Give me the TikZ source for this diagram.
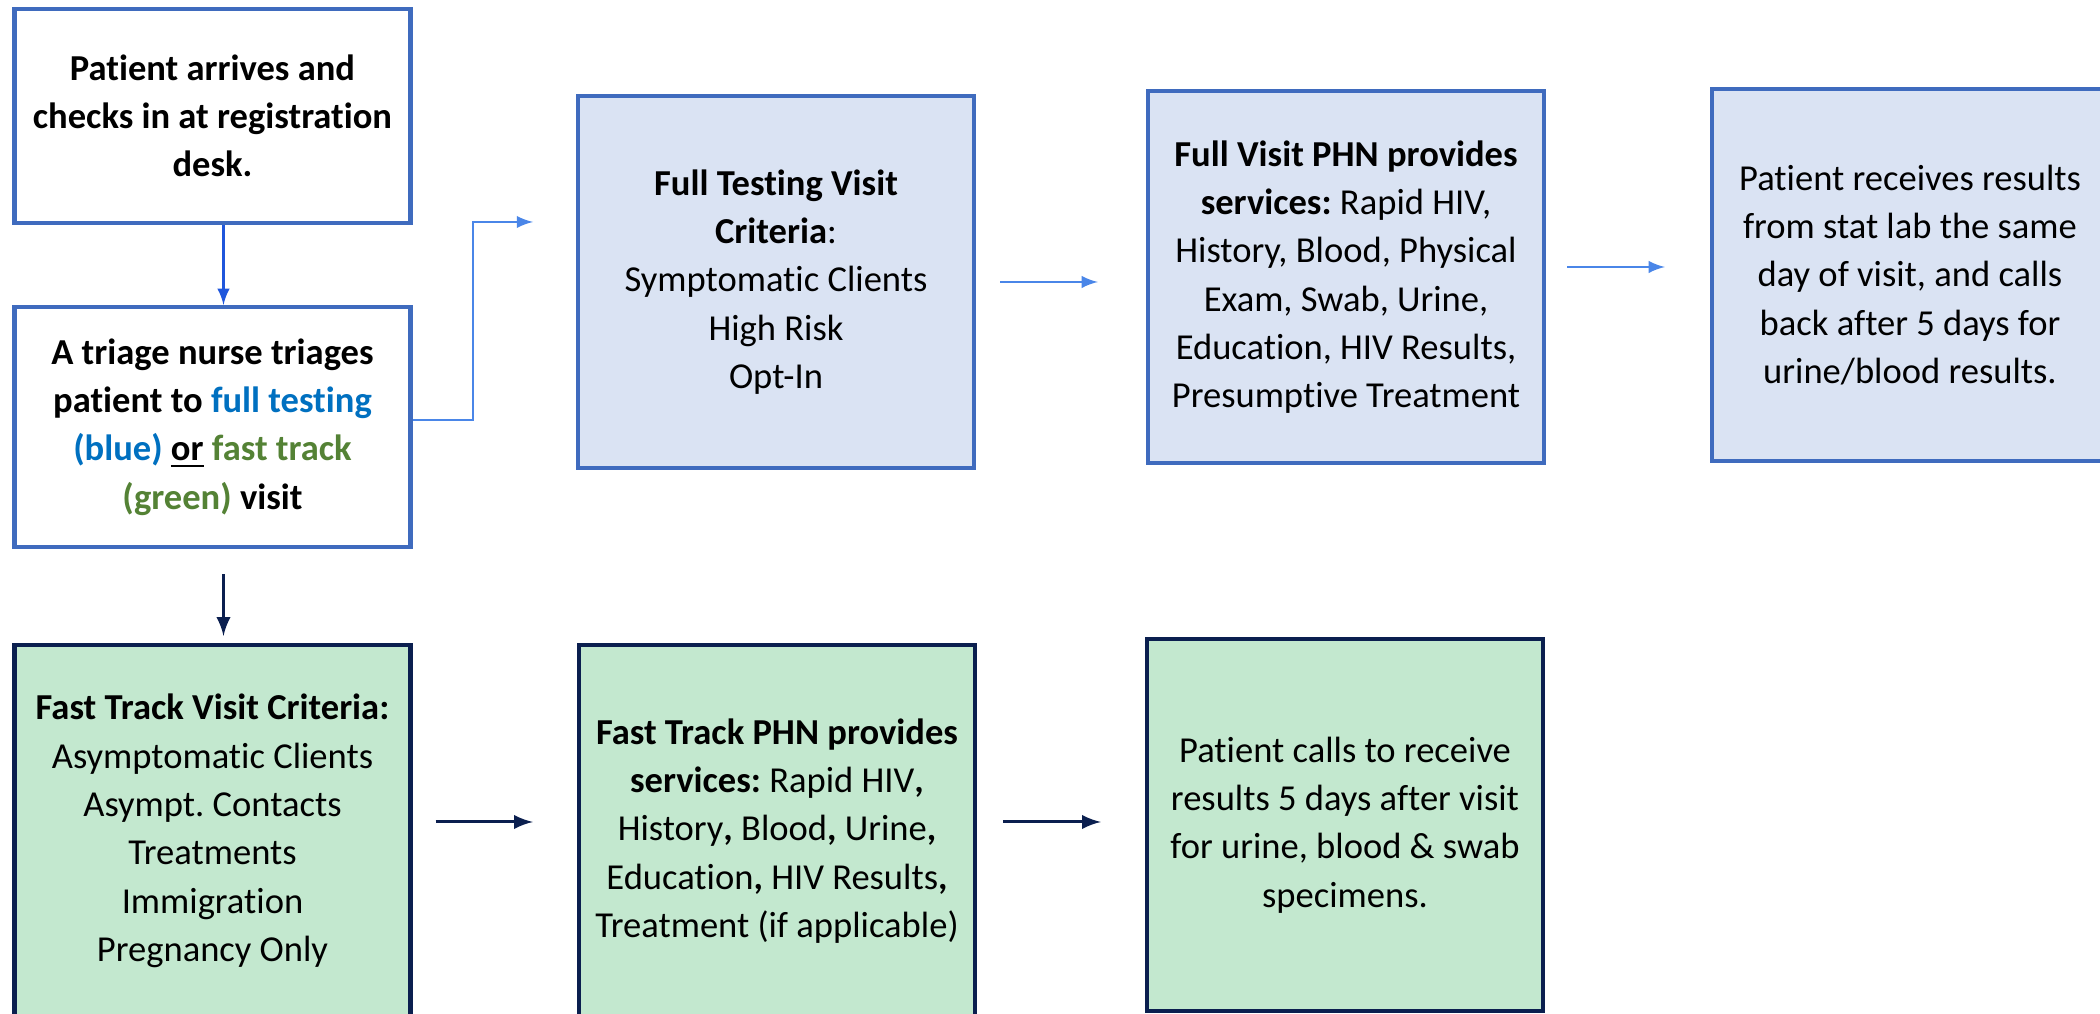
\documentclass[tikz,border=0pt]{standalone}
\usepackage{fontspec}
\setmainfont{Carlito}[Ligatures=NoCommon]
\usetikzlibrary{positioning}
\definecolor{boxblue}{HTML}{3F6BBE}
\definecolor{fillblue}{HTML}{DAE3F3}
\definecolor{fillgreen}{HTML}{C3E8CF}
\definecolor{navy}{HTML}{0B1F4F}
\definecolor{arrowblue}{HTML}{4A86E8}
\definecolor{darkarrow}{HTML}{1F56DC}
\definecolor{txtblue}{HTML}{0070C0}
\definecolor{txtgreen}{HTML}{548235}
\frenchspacing
\begin{document}
\begin{tikzpicture}[
  box/.style={draw, line width=1.2pt, minimum width=3.96cm, align=center, inner sep=2pt,
    font=\fontsize{10.4pt}{13.75pt}\selectfont},
  whitebox/.style={box, draw=boxblue, fill=white},
  bluebox/.style={box, draw=boxblue, fill=fillblue, minimum height=3.72cm},
  greenbox/.style={box, draw=navy, fill=fillgreen, minimum height=3.72cm},
  toparrow/.style={-latex, arrowblue, line width=0.6pt},
  botarrow/.style={-latex, navy, line width=0.85pt}]
\useasboundingbox (0,0) rectangle (21,10.14);
% left column
\node (reg) at (2.125,8.98) [whitebox, minimum height=2.14cm] {\textbf{Patient arrives and}\\\textbf{checks in at registration}\\\textbf{desk.}};
\node (triage) at (2.125,5.87) [whitebox, minimum height=2.40cm] {\textbf{A triage nurse triages}\\\textbf{patient to \textcolor{txtblue}{full testing}}\\\textbf{\textcolor{txtblue}{(blue)} \underline{or} \textcolor{txtgreen}{fast track}}\\\textbf{\textcolor{txtgreen}{(green)} visit}};
\node (fastcrit) at (2.125,1.83) [greenbox] {\textbf{Fast Track Visit Criteria:}\\Asymptomatic Clients\\Asympt. Contacts\\Treatments\\Immigration\\Pregnancy Only};
% full testing row
\node (fulltest) at (7.76,7.32) [bluebox] {\textbf{Full Testing Visit}\\\textbf{Criteria}:\\Symptomatic Clients\\High Risk\\Opt-In};
\node (fullvisit) at (13.46,7.37) [bluebox] {\textbf{Full Visit PHN provides}\\\textbf{services:} Rapid HIV,\\History, Blood, Physical\\Exam, Swab, Urine,\\Education, HIV Results,\\Presumptive Treatment};
\node (results) at (19.10,7.39) [bluebox] {Patient receives results\\from stat lab the same\\day of visit, and calls\\back after 5 days for\\urine/blood results.};
% fast track row
\node (fastvisit) at (7.77,1.83) [greenbox] {\textbf{Fast Track PHN provides}\\\textbf{services:} Rapid HIV\textbf{,}\\History\textbf{,} Blood\textbf{,} Urine\textbf{,}\\Education\textbf{,} HIV Results\textbf{,}\\Treatment (if applicable)};
\node (callback) at (13.45,1.89) [greenbox] {Patient calls to receive\\results 5 days after visit\\for urine, blood \& swab\\specimens.};
\coordinate (fulltip) at (5.33,7.92);
% arrows
\draw[-latex, darkarrow, line width=0.6pt] ([xshift=0.11cm]reg.south) -- ([xshift=0.11cm]triage.north);
\draw[toparrow] ([yshift=0.07cm]triage.east) -| ([xshift=-0.6cm]fulltip) -- (fulltip);
\draw[toparrow, shorten <=0.24cm, shorten >=0.48cm] (fulltest.east) -- (fulltest.east -| fullvisit.west);
\draw[toparrow, shorten <=0.21cm, shorten >=0.45cm] ([yshift=0.10cm]fullvisit.east) -- ([yshift=0.10cm]fullvisit.east -| results.west);
\draw[botarrow, shorten <=0.25cm, shorten >=0.07cm] ([xshift=0.11cm]triage.south) -- ([xshift=0.11cm]fastcrit.north);
\draw[botarrow, shorten <=0.23cm, shorten >=0.44cm] ([yshift=0.09cm]fastcrit.east) -- ([yshift=0.09cm]fastcrit.east -| fastvisit.west);
\draw[botarrow, shorten <=0.26cm, shorten >=0.44cm] ([yshift=0.09cm]fastvisit.east) -- ([yshift=0.09cm]fastvisit.east -| callback.west);
\end{tikzpicture}
\end{document}
